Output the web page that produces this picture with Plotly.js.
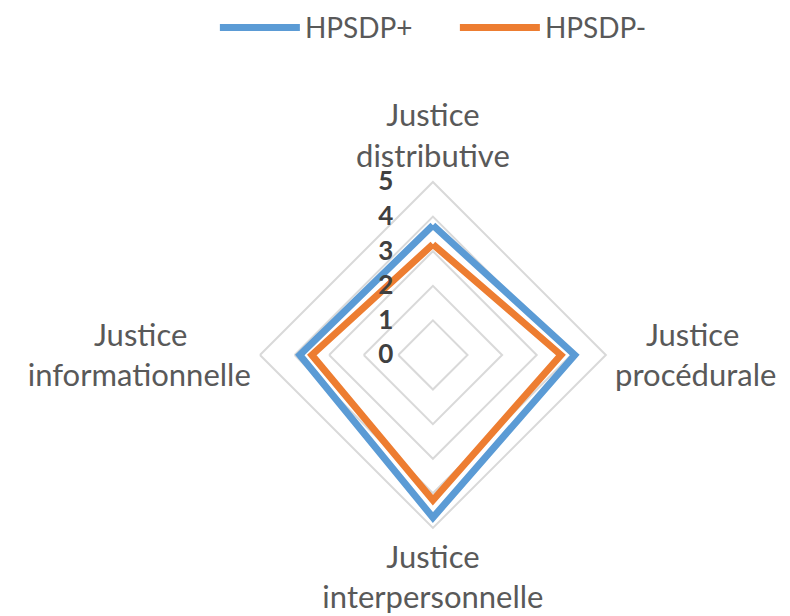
<!DOCTYPE html>
<html>
<head>
<meta charset="utf-8">
<script src="https://cdn.plot.ly/plotly-3.0.1.min.js"></script>
<style>
  body { margin: 0; background: #fff; }
  #radar { width: 790px; height: 616px; }
</style>
</head>
<body>
<div id="radar"></div>
<script>
// axes of the radar, clockwise from the top
// (non-breaking spaces keep the two lines of the side labels centred on each other)
var categories = [
    'Justice<br>distributive',
    '&nbsp;&nbsp;&nbsp;&nbsp;Justice<br>procédurale',
    'Justice<br>interpersonnelle',
    'Justice&nbsp;&nbsp;&nbsp;&nbsp;&nbsp;&nbsp;&nbsp;&nbsp;<br>informationnelle'
];
var hpsdpPlus = [3.75, 4.1, 4.7, 3.85];
var hpsdpMinus = [3.2, 3.7, 4.2, 3.5];
var radialTicks = [0, 1, 2, 3, 4, 5];

// close the polygon by repeating the first point
const closed = arr => arr.concat([arr[0]]);

var traces = [
    {
        type: 'scatterpolar',
        mode: 'lines',
        name: 'HPSDP+',
        r: closed(hpsdpPlus),
        theta: closed(categories),
        line: {color: '#5B9BD5', width: 7}
    },
    {
        type: 'scatterpolar',
        mode: 'lines',
        name: 'HPSDP-',
        r: closed(hpsdpMinus),
        theta: closed(categories),
        line: {color: '#ED7D31', width: 7}
    }
];

var layout = {
    width: 790,
    height: 616,
    margin: {l: 0, r: 0, t: 0, b: 0},
    paper_bgcolor: '#fff',
    font: {family: 'Lato, "Open Sans", sans-serif', color: '#595959', size: 31},
    showlegend: true,
    legend: {
        orientation: 'h',
        x: 0.272,
        xanchor: 'left',
        y: 0.955,
        yanchor: 'middle',
        itemwidth: 80,
        entrywidth: 145,
        font: {size: 28, color: '#595959'}
    },
    polar: {
        domain: {x: [0.329, 0.767], y: [0.143, 0.7045]},
        gridshape: 'linear',
        bgcolor: '#fff',
        radialaxis: {
            range: [0, 5],
            tickvals: radialTicks,
            ticktext: radialTicks.map(v => '<b>' + v + '</b>'),
            angle: 90,
            side: 'counterclockwise',
            showline: false,
            ticks: 'outside',
            ticklen: 30,
            tickcolor: 'rgba(0,0,0,0)',
            tickangle: 90,
            gridcolor: '#D9D9D9',
            gridwidth: 2,
            tickfont: {size: 26, color: '#404040'}
        },
        angularaxis: {
            rotation: 90,
            direction: 'clockwise',
            showgrid: false,
            showline: true,
            linecolor: '#D9D9D9',
            linewidth: 2,
            ticks: 'outside',
            ticklen: 2,
            tickcolor: 'rgba(0,0,0,0)',
            tickfont: {size: 31, color: '#595959'}
        }
    }
};

Plotly.newPlot('radar', traces, layout, {displayModeBar: false});
</script>
</body>
</html>
